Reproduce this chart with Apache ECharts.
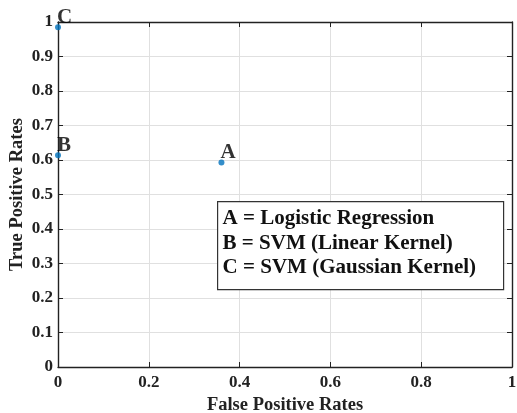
<!DOCTYPE html>
<html>
<head>
<meta charset="utf-8">
<script src="https://cdn.jsdelivr.net/npm/echarts@6/dist/echarts.min.js"></script>
<style>
  html, body { margin: 0; padding: 0; background: #fff; }
  #chart { width: 517px; height: 413px; }
</style>
</head>
<body>
<div id="chart"></div>
<script>
// classifier points on ROC plane
const pointNames = ['A', 'B', 'C'];
const fprValues = [0.36, 0, 0];
const tprValues = [0.593, 0.614, 0.985];
const legendLines = [
  'A = Logistic Regression',
  'B = SVM (Linear Kernel)',
  'C = SVM (Gaussian Kernel)'
];

var chart = echarts.init(document.getElementById('chart'));
var font = '"Liberation Serif", "Times New Roman", serif';
var ink = '#222';

var points = pointNames.map(function (n, i) {
  return { name: n, value: [fprValues[i], tprValues[i]] };
});

var tickStyle = { show: true, inside: true, length: 5, lineStyle: { color: ink } };
var lineStyle = { show: true, onZero: false, lineStyle: { color: ink, width: 1.4 } };
var labelFmt = function (v) { return String(+v.toFixed(1)); };

var option = {
  backgroundColor: '#fff',
  grid: { left: 58, top: 22, right: 5, bottom: 46, outerBoundsMode: 'none', containLabel: false },
  xAxis: [{
    type: 'value', min: 0, max: 1, interval: 0.2,
    name: 'False Positive Rates', nameLocation: 'middle', nameGap: 29,
    nameMoveOverlap: false,
    nameTextStyle: { fontFamily: font, fontWeight: 'bold', fontSize: 18.5, color: ink },
    axisLine: lineStyle, axisTick: tickStyle,
    axisLabel: { fontFamily: font, fontWeight: 'bold', fontSize: 17, color: ink, margin: 7, formatter: labelFmt },
    splitLine: { lineStyle: { color: '#e0e0e0' } }
  }, {
    type: 'value', min: 0, max: 1, interval: 0.2, position: 'top',
    axisLine: lineStyle, axisTick: tickStyle, axisLabel: { show: false },
    splitLine: { show: false }
  }],
  yAxis: [{
    type: 'value', min: 0, max: 1, interval: 0.1,
    name: 'True Positive Rates', nameLocation: 'middle', nameGap: 31,
    nameMoveOverlap: false,
    nameTextStyle: { fontFamily: font, fontWeight: 'bold', fontSize: 18.5, color: ink },
    axisLine: lineStyle, axisTick: tickStyle,
    axisLabel: { fontFamily: font, fontWeight: 'bold', fontSize: 17, color: ink, margin: 5, formatter: labelFmt },
    splitLine: { lineStyle: { color: '#e0e0e0' } }
  }, {
    type: 'value', min: 0, max: 1, interval: 0.1, position: 'right',
    axisLine: lineStyle, axisTick: tickStyle, axisLabel: { show: false },
    splitLine: { show: false }
  }],
  series: [{
    type: 'scatter',
    data: points,
    symbolSize: 6,
    itemStyle: { color: '#0072BD' },
    label: {
      show: true,
      formatter: '{b}',
      position: [2, -17],
      fontFamily: font, fontWeight: 'bold', fontSize: 21, color: '#000',
      textBorderWidth: 0
    },
    z: 10
  }],
  graphic: [{
    type: 'group',
    left: 217, top: 201,
    z: 100,
    children: [{
      type: 'rect',
      z: 100,
      shape: { x: 0, y: 0, width: 286, height: 88 },
      style: { fill: '#fff', stroke: '#333', lineWidth: 1.2 }
    }, {
      type: 'text',
      z: 101,
      x: 5, y: 5,
      style: {
        text: legendLines.join('\n'),
        font: 'bold 21px ' + font,
        lineHeight: 24.5,
        fill: '#111'
      }
    }]
  }]
};

chart.setOption(option);
</script>
</body>
</html>
